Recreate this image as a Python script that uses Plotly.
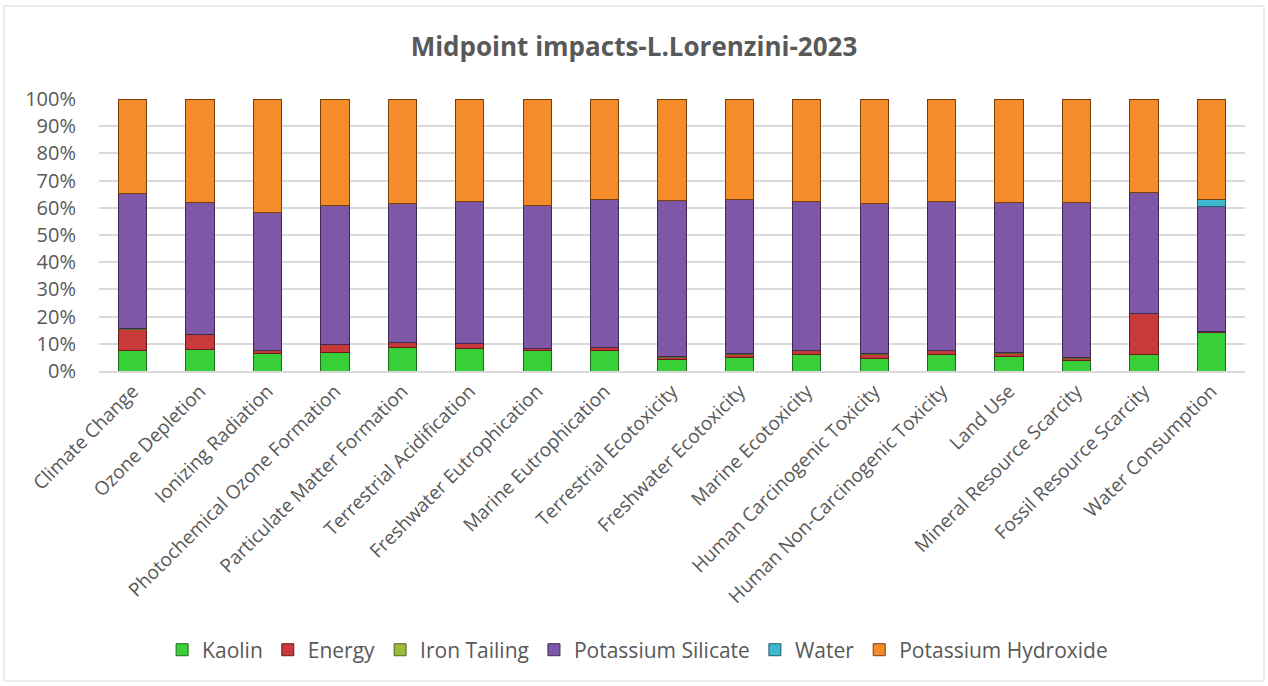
import plotly.graph_objects as go

categories = [
    "Climate Change", "Ozone Depletion", "Ionizing Radiation",
    "Photochemical Ozone Formation", "Particulate Matter Formation",
    "Terrestrial Acidification", "Freshwater Eutrophication",
    "Marine Eutrophication", "Terrestrial Ecotoxicity", "Freshwater Ecotoxicity",
    "Marine Ecotoxicity", "Human Carcinogenic Toxicity",
    "Human Non-Carcinogenic Toxicity", "Land Use", "Mineral Resource Scarcity",
    "Fossil Resource Scarcity", "Water Consumption",
]

kaolin = [7.5, 8.0, 6.6, 6.9, 8.7, 8.2, 7.4, 7.6, 4.3, 5.0, 6.1, 4.5, 6.1, 5.4, 3.7, 6.0, 14.2]
energy = [7.9, 5.4, 0.8, 2.7, 1.7, 1.8, 0.7, 1.0, 0.8, 1.2, 1.3, 1.7, 1.3, 1.2, 1.0, 15.2, 0.4]
iron_tailing = [0.1, 0.1, 0.1, 0.1, 0.1, 0.1, 0.1, 0.1, 0.1, 0.1, 0.1, 0.1, 0.1, 0.1, 0.1, 0.1, 0.1]
potassium_silicate = [49.9, 48.6, 50.8, 51.2, 51.1, 52.3, 52.7, 54.2, 57.5, 56.6, 54.9, 55.2, 54.8, 55.2, 57.3, 44.5, 45.6]
water = [0, 0, 0, 0, 0, 0, 0, 0, 0, 0, 0, 0, 0, 0, 0, 0, 2.7]
potassium_hydroxide = [34.6, 37.9, 41.7, 39.1, 38.4, 37.6, 39.1, 37.1, 37.3, 37.1, 37.6, 38.5, 37.7, 38.1, 37.9, 34.2, 37.0]

series = [
    ("Kaolin", kaolin, "#38CF38", "#1F6B1F"),
    ("Energy", energy, "#C83A3A", "#6B1B1B"),
    ("Iron Tailing", iron_tailing, "#9BBB3B", "#55661F"),
    ("Potassium Silicate", potassium_silicate, "#7E58A6", "#3E2A55"),
    ("Water", water, "#3DB8CF", "#1C5E6B"),
    ("Potassium Hydroxide", potassium_hydroxide, "#F48C2C", "#7A3E08"),
]

FONT = "Open Sans"
GREY = "#595959"

fig = go.Figure()
for name, vals, col, line in series:
    fig.add_trace(go.Bar(
        x=categories, y=vals, name=name,
        marker=dict(color=col, line=dict(color=line, width=1)),
    ))

fig.update_layout(
    barmode="stack",
    bargap=0.58,
    width=1268, height=686,
    margin=dict(l=99, r=23, t=99, b=315),
    paper_bgcolor="white", plot_bgcolor="white",
    font=dict(family=FONT, color=GREY, size=17),
    title=dict(
        text="<b>Midpoint impacts-L.Lorenzini-2023</b>",
        x=0.5, xref="container", xanchor="center",
        y=1 - 47 / 686, yref="container", yanchor="middle",
        font=dict(family=FONT, size=26, color=GREY),
    ),
    legend=dict(
        orientation="h", x=0.47, xanchor="center", y=-1.026, yanchor="middle",
        font=dict(family=FONT, size=21, color=GREY),
        traceorder="normal", itemwidth=30,
    ),
    showlegend=True,
)
fig.update_xaxes(
    tickangle=-45, tickfont=dict(size=19, color=GREY),
    showline=True, linecolor="#D9D9D9", linewidth=1.5, ticks="",
)
fig.update_yaxes(
    range=[0, 100], dtick=10, ticksuffix="%",
    tickfont=dict(size=20, color=GREY),
    showgrid=True, gridcolor="#D9D9D9", gridwidth=1.5,
    zeroline=False, ticks="", ticklabelstandoff=22,
)
fig.add_shape(
    type="rect", xref="paper", yref="paper",
    x0=-0.0829, x1=1.0166, y0=-1.140, y1=1.342,
    line=dict(color="#D9D9D9", width=1), fillcolor="rgba(0,0,0,0)", layer="below",
)

fig.write_html("out.html")
